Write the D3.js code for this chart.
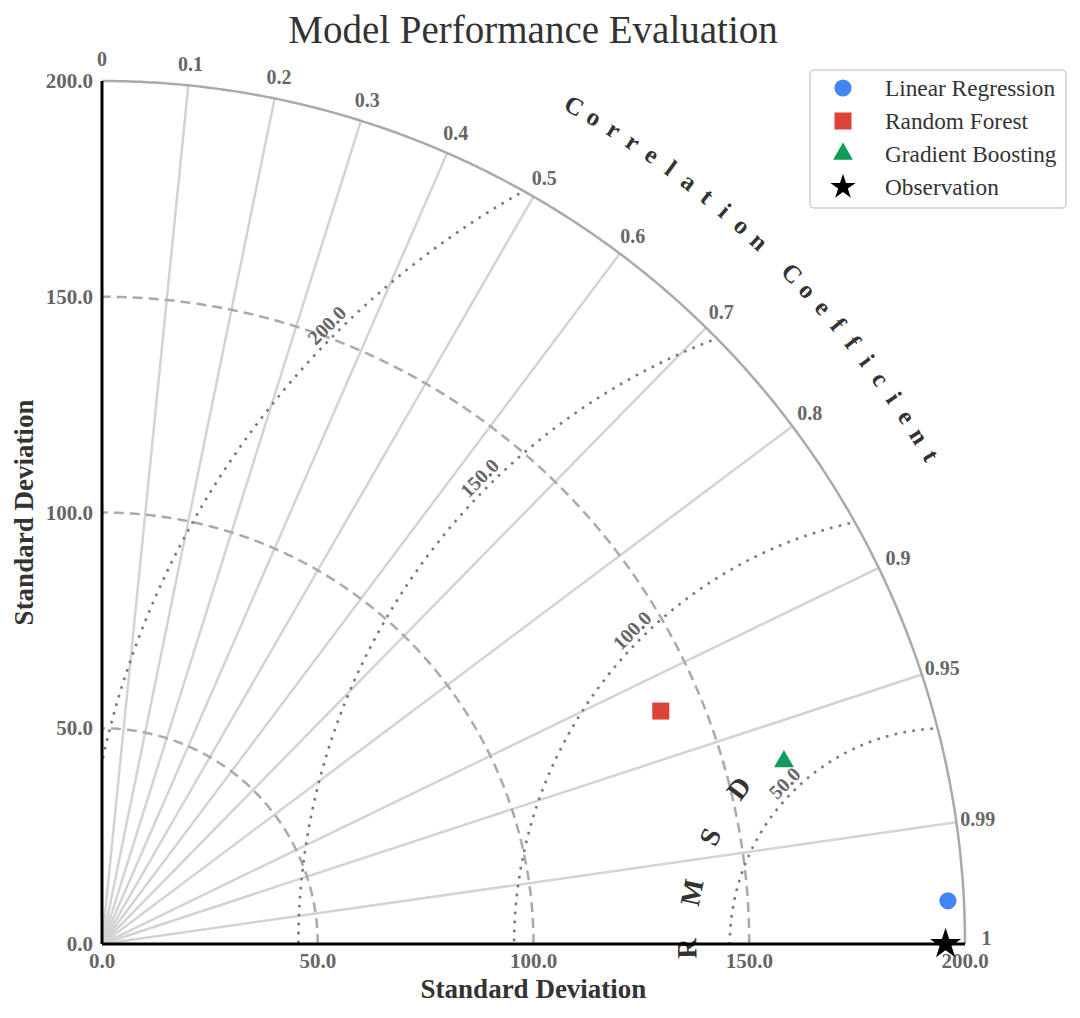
<!DOCTYPE html>
<html>
<head>
<meta charset="utf-8">
<script src="https://cdn.jsdelivr.net/npm/d3@7"></script>
<style>
  html, body { margin: 0; padding: 0; background: #fff; }
  svg { display: block; font-family: "Liberation Serif", "Times New Roman", serif; }
</style>
</head>
<body>
<svg id="chart" width="1080" height="1018"></svg>
<script>
// ---------------- data ----------------
const models = ["Linear Regression", "Random Forest", "Gradient Boosting"];
const modelStd = [196.3, 140.3, 163.6];
const modelCorr = [0.9987, 0.923, 0.966];
const modelColors = ["#4285F4", "#DB4437", "#0F9D58"];
const modelSymbols = ["circle", "square", "triangle"];
const refName = "Observation";
const refStd = 195.5;
const stdTicks = [0, 50, 100, 150, 200];
const stdTickLabels = ["0.0", "50.0", "100.0", "150.0", "200.0"];
const stdArcs = [50, 100, 150];
const corrTicks = [0, 0.1, 0.2, 0.3, 0.4, 0.5, 0.6, 0.7, 0.8, 0.9, 0.95, 0.99, 1];
const corrTickLabels = ["0", "0.1", "0.2", "0.3", "0.4", "0.5", "0.6", "0.7", "0.8", "0.9", "0.95", "0.99", "1"];
const corrLines = [0.1, 0.2, 0.3, 0.4, 0.5, 0.6, 0.7, 0.8, 0.9, 0.95, 0.99];
const rmsdLevels = [50, 100, 150, 200];
const rmsdLabels = ["50.0", "100.0", "150.0", "200.0"];
const maxStd = 200;

// ---------------- layout ----------------
const svg = d3.select("#chart");
const ox = 102, oy = 944;
const r = d3.scaleLinear().domain([0, maxStd]).range([0, 863]);
const px = (s, c) => ox + r(s * c);
const py = (s, c) => oy - r(s * Math.sqrt(Math.max(0, 1 - c * c)));
const pa = (s, ang) => [ox + r(s) * Math.cos(ang), oy - r(s) * Math.sin(ang)];

const g = svg.append("g");

// correlation lines
g.selectAll("line.corr").data(corrLines).join("line")
  .attr("x1", ox).attr("y1", oy)
  .attr("x2", d => px(maxStd, d)).attr("y2", d => py(maxStd, d))
  .attr("stroke", "#d3d3d3").attr("stroke-width", 2.5);

// std dashed arcs
const arcPath = (s) => {
  const pts = d3.range(0, 90.01, 0.25).map(a => pa(s, a * Math.PI / 180));
  return d3.line()(pts);
};
g.selectAll("path.std").data(stdArcs).join("path")
  .attr("d", arcPath).attr("fill", "none")
  .attr("stroke", "#aaaaaa").attr("stroke-width", 2.5)
  .attr("stroke-dasharray", "10,6");

// outer arc
g.append("path").attr("d", arcPath(maxStd)).attr("fill", "none")
  .attr("stroke", "#aaaaaa").attr("stroke-width", 2.5);

// RMSD dotted arcs
const rmsdPath = (lev) => {
  const pts = [];
  for (let phi = 0; phi <= 180; phi += 0.2) {
    const p = phi * Math.PI / 180;
    const x = refStd + lev * Math.cos(p), y = lev * Math.sin(p);
    if (x < 0 || y < 0) continue;
    if (Math.hypot(x, y) > maxStd * 0.995) continue;
    pts.push([ox + r(x), oy - r(y)]);
  }
  return d3.line()(pts);
};
g.selectAll("path.rmsd").data(rmsdLevels).join("path")
  .attr("d", rmsdPath).attr("fill", "none")
  .attr("stroke", "#777777").attr("stroke-width", 2.6)
  .attr("stroke-dasharray", "2.6,6.4");

// RMSD labels at 135 deg on each arc
const lblPhi = 135 * Math.PI / 180;
g.selectAll("text.rmsd").data(rmsdLevels).join("text")
  .attr("transform", d => {
    const x = ox + r(refStd + (d + 2.8) * Math.cos(lblPhi));
    const y = oy - r((d + 2.8) * Math.sin(lblPhi));
    return `translate(${x},${y}) rotate(${90 - 135})`;
  })
  .attr("text-anchor", "middle").attr("dominant-baseline", "central")
  .attr("font-size", 20).attr("font-weight", "bold").attr("fill", "#666")
  .text((d, i) => rmsdLabels[i]);

// RMSD title letters along a circle about the reference
const rmsdWord = "RMSD".split("");
const rmsdAngles = [181, 168.5, 155.5, 143];
g.selectAll("text.rmsdT").data(rmsdWord).join("text")
  .attr("transform", (d, i) => {
    const p = rmsdAngles[i] * Math.PI / 180;
    const x = ox + r(refStd + 60 * Math.cos(p));
    const y = oy - r(60 * Math.sin(p));
    return `translate(${x},${y}) rotate(${90 - rmsdAngles[i]})`;
  })
  .attr("text-anchor", "middle").attr("dominant-baseline", "central")
  .attr("font-size", 28).attr("font-weight", "bold").attr("fill", "#333")
  .text(d => d);

// axes
g.append("line").attr("x1", ox).attr("y1", oy).attr("x2", ox + r(maxStd)).attr("y2", oy)
  .attr("stroke", "#000").attr("stroke-width", 3);
g.append("line").attr("x1", ox).attr("y1", oy).attr("x2", ox).attr("y2", oy - r(maxStd))
  .attr("stroke", "#000").attr("stroke-width", 3);

// x tick labels
g.selectAll("text.xt").data(stdTicks).join("text")
  .attr("x", d => ox + r(d)).attr("y", oy + 24)
  .attr("text-anchor", "middle").attr("font-size", 21).attr("font-weight", "bold").attr("fill", "#666")
  .text((d, i) => stdTickLabels[i]);
// y tick labels
g.selectAll("text.yt").data(stdTicks).join("text")
  .attr("x", ox - 9).attr("y", d => oy - r(d))
  .attr("text-anchor", "end").attr("dominant-baseline", "central")
  .attr("font-size", 21).attr("font-weight", "bold").attr("fill", "#666")
  .text((d, i) => stdTickLabels[i]);

// correlation tick labels
g.selectAll("text.ct").data(corrTicks).join("text")
  .attr("x", d => ox + r(205) * d)
  .attr("y", d => oy - r(205) * Math.sqrt(1 - d * d) - (d === 1 ? 6 : 0))
  .attr("text-anchor", "middle").attr("dominant-baseline", "central")
  .attr("font-size", 20).attr("font-weight", "bold").attr("fill", "#666")
  .text((d, i) => corrTickLabels[i]);

// "Correlation Coefficient" along arc
const ccText = "Correlation Coefficient".split("");
const ccStart = 60.6, ccStep = 1.368;
g.selectAll("text.cc").data(ccText).join("text")
  .attr("transform", (d, i) => {
    const a = (ccStart - i * ccStep);
    const [x, y] = pa(223, a * Math.PI / 180);
    return `translate(${x},${y}) rotate(${90 - a})`;
  })
  .attr("text-anchor", "middle").attr("dominant-baseline", "central")
  .attr("font-size", 25).attr("font-weight", "bold").attr("fill", "#333")
  .text(d => d);

// axis titles
svg.append("text").attr("x", ox + r(100)).attr("y", 998)
  .attr("text-anchor", "middle").attr("font-size", 27).attr("font-weight", "bold").attr("fill", "#333")
  .text("Standard Deviation");
svg.append("text").attr("transform", `translate(33,${oy - r(100)}) rotate(-90)`)
  .attr("text-anchor", "middle").attr("font-size", 27).attr("font-weight", "bold").attr("fill", "#333")
  .text("Standard Deviation");

// title
svg.append("text").attr("x", 533).attr("y", 43)
  .attr("text-anchor", "middle").attr("font-size", 39).attr("fill", "#333")
  .text("Model Performance Evaluation");

// symbols
const symType = { circle: d3.symbolCircle, square: d3.symbolSquare, triangle: d3.symbolTriangle };
const symSize = { circle: 230, square: 290, triangle: 170 };

// model points
g.selectAll("path.pt").data(models).join("path")
  .attr("d", (d, i) => d3.symbol().type(symType[modelSymbols[i]]).size(symSize[modelSymbols[i]])())
  .attr("transform", (d, i) => `translate(${px(modelStd[i], modelCorr[i])},${py(modelStd[i], modelCorr[i])})`)
  .attr("fill", (d, i) => modelColors[i]);

// reference star
g.append("path").attr("d", d3.symbol().type(d3.symbolStar).size(300)())
  .attr("transform", `translate(${px(refStd, 1)},${oy})`).attr("fill", "#000");

// legend
const lg = svg.append("g").attr("transform", "translate(810,70)");
lg.append("rect").attr("width", 256).attr("height", 138).attr("rx", 4)
  .attr("fill", "#fff").attr("stroke", "#d0d0d0").attr("stroke-width", 1.5);
const legItems = models.map((m, i) => ({ name: m, color: modelColors[i], sym: symType[modelSymbols[i]], size: symSize[modelSymbols[i]] }))
  .concat([{ name: refName, color: "#000", sym: d3.symbolStar, size: 200 }]);
const row = lg.selectAll("g.row").data(legItems).join("g")
  .attr("transform", (d, i) => `translate(0,${18 + i * 33})`);
row.append("path").attr("d", d => d3.symbol().type(d.sym).size(d.size)())
  .attr("transform", "translate(33,0)").attr("fill", d => d.color);
row.append("text").attr("x", 75).attr("dominant-baseline", "central")
  .attr("font-size", 23.3).attr("fill", "#333").text(d => d.name);
</script>
</body>
</html>
